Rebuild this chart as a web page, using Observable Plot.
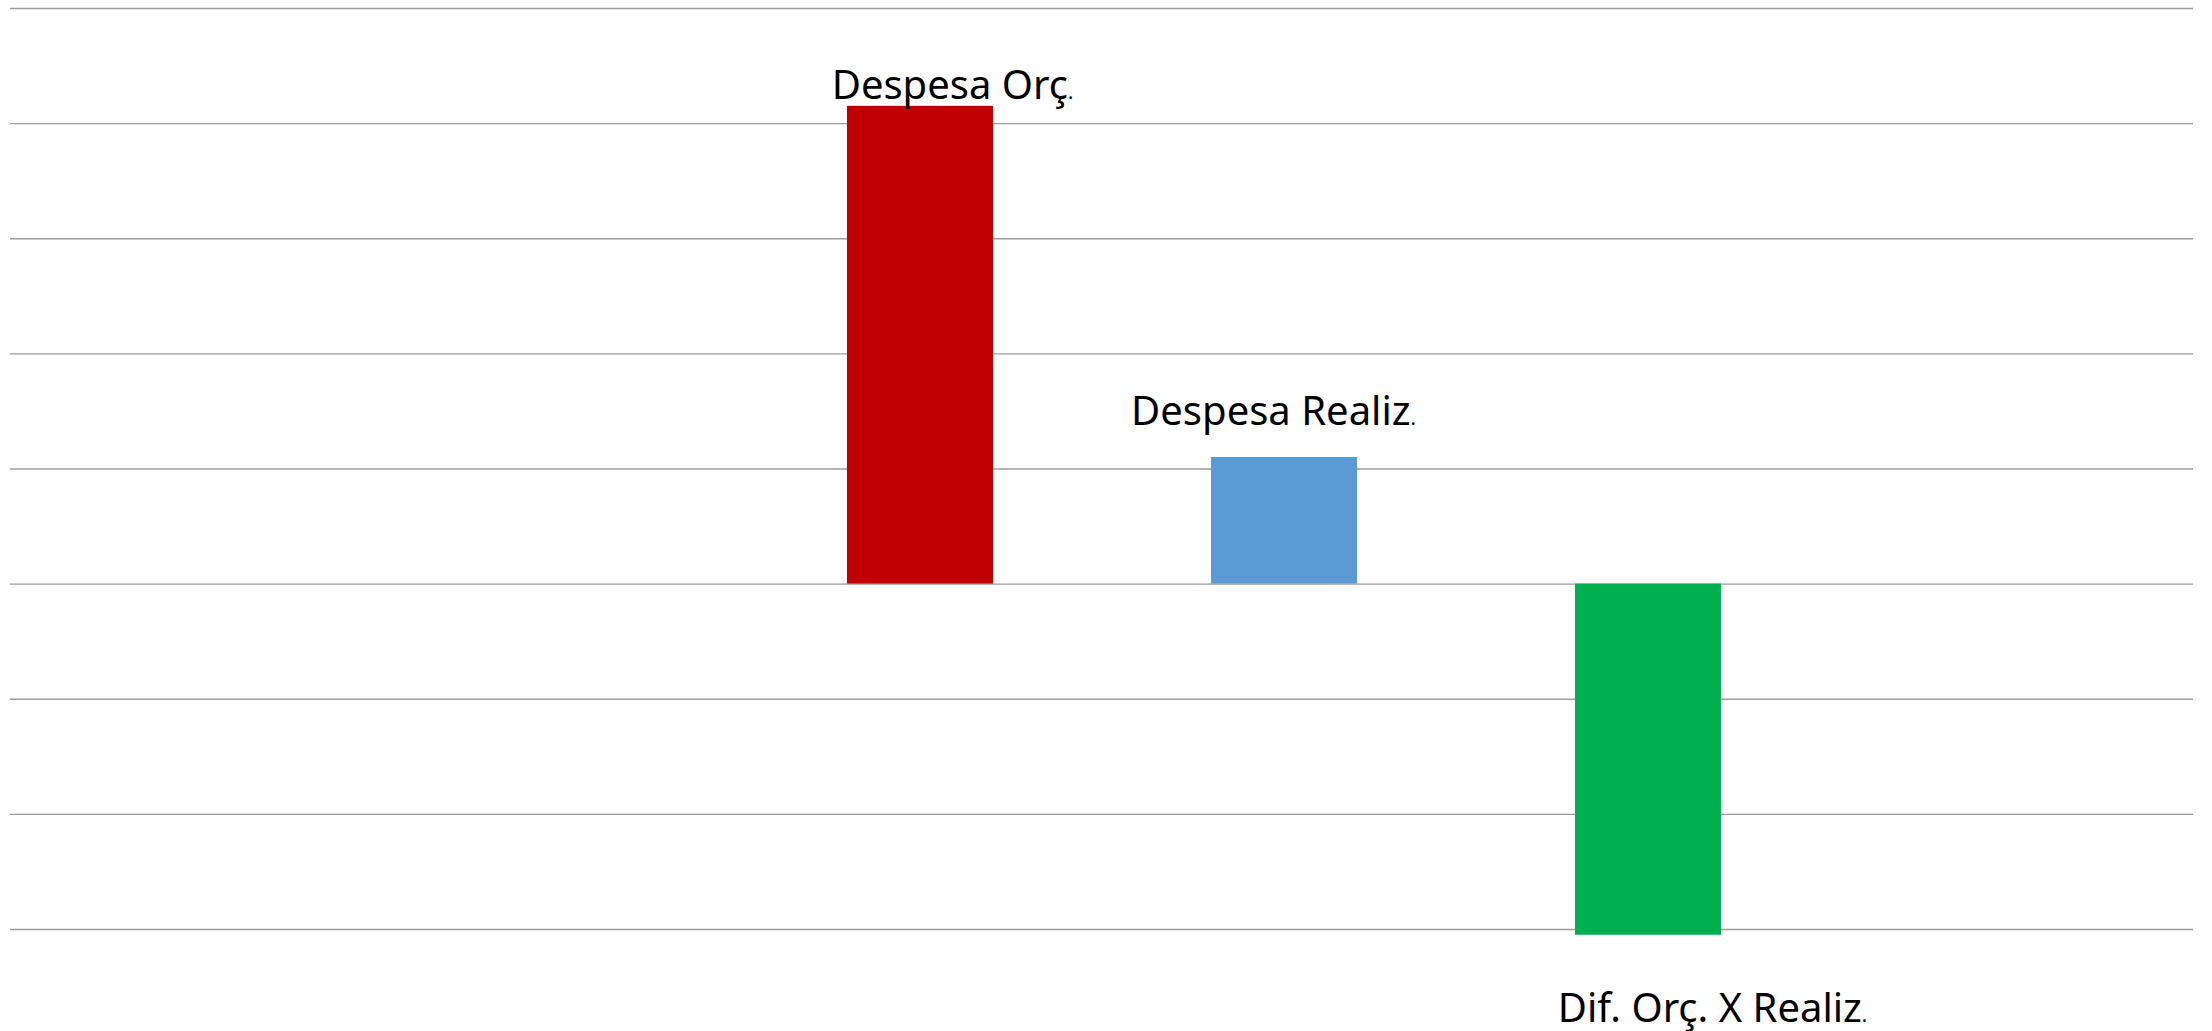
<!DOCTYPE html>
<html>
<head>
<meta charset="utf-8">
<script src="https://cdn.jsdelivr.net/npm/d3@7"></script>
<script src="https://cdn.jsdelivr.net/npm/@observablehq/plot@0.6"></script>
<style>
  html, body { margin: 0; padding: 0; background: #ffffff; overflow: hidden; }
  #chart svg { display: block; }
</style>
</head>
<body>
<div id="chart"></div>
<script>
// ---- data ----
const categories = ["Despesa Orç.", "Despesa Realiz.", "Dif. Orç. X Realiz."];
const values = [4.15, 1.10, -3.05];
const colors = ["#C00000", "#5B9BD5", "#00B050"];
const yTicks = [-3, -2, -1, 0, 1, 2, 3, 4, 5];

const data = categories.map((name, i) => ({name, value: values[i]}));

const labelStyle = {fontSize: 40, fontFamily: "Noto Sans", fill: "#000000"};

const chart = Plot.plot({
  width: 2212,
  height: 1031,
  marginLeft: 10,
  marginRight: 19,
  marginTop: 8,
  marginBottom: 102,
  style: {background: "#ffffff", fontFamily: "Noto Sans", overflow: "visible"},
  x: {domain: categories, range: [738, 1830], paddingInner: 0.599, paddingOuter: 0.2995, axis: null},
  y: {domain: [yTicks[0], yTicks[yTicks.length - 1]], axis: null},
  color: {domain: categories, range: colors},
  marks: [
    Plot.ruleY(yTicks, {stroke: "#9c9c9c", strokeWidth: 1.4}),
    Plot.barY(data, {x: "name", y1: 0, y2: "value", fill: "name"}),
    Plot.text(data.filter(d => d.name === categories[0]), {
      x: "name", y: "value", text: "name", lineAnchor: "bottom", dx: 32, dy: -7, ...labelStyle
    }),
    Plot.text(data.filter(d => d.name === categories[1]), {
      x: "name", y: "value", text: "name", lineAnchor: "bottom", dx: -11, dy: -32, ...labelStyle
    }),
    Plot.text(data.filter(d => d.name === categories[2]), {
      x: "name", y: "value", text: "name", lineAnchor: "bottom", dx: 64, dy: 87, ...labelStyle
    })
  ]
});

// make trailing period smaller, as in the reference
chart.querySelectorAll("text").forEach(t => {
  const s = t.textContent;
  if (s.endsWith(".")) {
    t.textContent = s.slice(0, -1);
    const ts = document.createElementNS("http://www.w3.org/2000/svg", "tspan");
    ts.setAttribute("font-size", "20");
    ts.textContent = ".";
    t.appendChild(ts);
  }
});

document.getElementById("chart").appendChild(chart);
</script>
</body>
</html>
